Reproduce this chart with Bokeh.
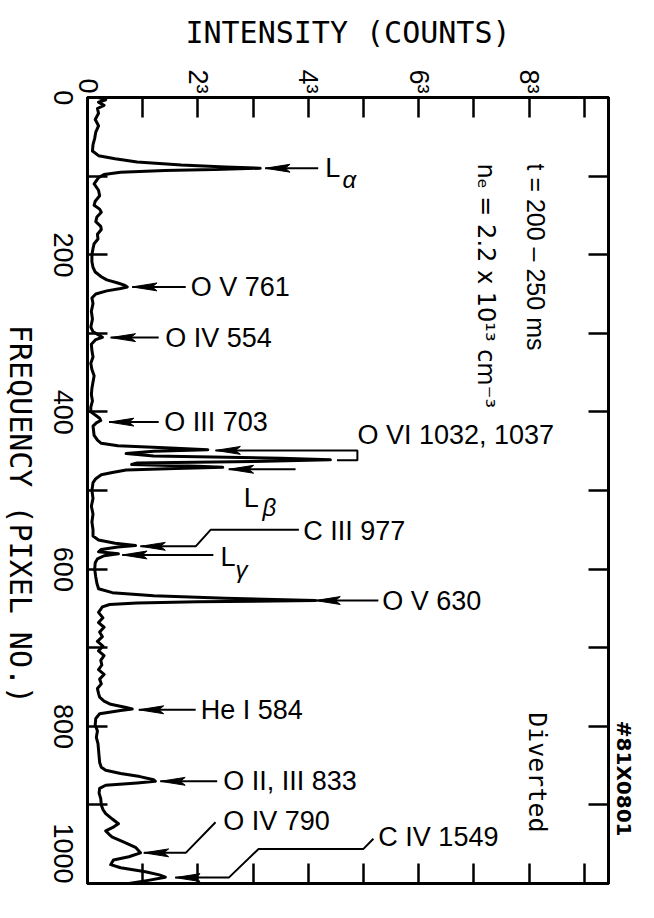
import math
from bokeh.plotting import figure
from bokeh.layouts import row
from bokeh.models import Range1d, LinearAxis, FixedTicker, Label
from bokeh.embed import file_html
from bokeh.resources import INLINE

# ---------------- data (frequency in pixel no., intensity as cube root of counts) ----------------
pixel = [0, 3, 6, 10, 14, 20, 28, 36, 44, 52, 60, 68,
         74, 78, 82, 86, 88.5, 90, 91.5, 93, 95, 98, 102,
         110, 118, 125, 132, 137, 142, 146, 152, 158, 164, 168, 174, 180, 186, 192, 200, 209, 216, 222,
         228, 232, 236, 239, 241, 243, 246, 250, 255,
         262, 272, 282, 292, 298, 302, 305, 308, 314, 322, 330, 338, 346, 354, 362, 370, 378, 386, 394,
         400, 404, 408, 411, 414, 418, 424, 430, 436, 440, 443,
         446, 448, 450, 453, 456, 459, 461, 463, 465, 467, 469, 470.5, 472, 474, 477, 480, 485, 490,
         500, 510, 520, 530, 540, 550, 558, 563, 567, 570, 572, 575, 578, 580.5, 583, 587, 592,
         600, 610, 618, 625, 630, 634, 637, 640, 641.5, 643, 645, 648,
         655, 662, 668, 674, 680, 686, 692, 698, 704, 710, 716, 722, 728, 734, 740, 746, 752, 758,
         763, 768, 772, 776, 778, 780, 784, 790, 798, 806, 814, 822, 830, 838, 846, 852, 856, 860,
         864, 868, 870, 872, 875, 879, 885, 892, 900, 906, 911, 918, 924, 929, 933, 938, 941, 947,
         954, 961, 966, 970, 976, 980, 985, 989, 992, 996, 1000]
cuberoot_counts = [0.2, 0.33, 0.2, 0.3, 0.18, 0.2, 0.14, 0.2, 0.15, 0.13, 0.1, 0.09,
                   0.2, 0.5, 0.9, 1.7, 2.5, 3.13, 2.3, 1.4, 0.6, 0.3, 0.2,
                   0.12, 0.2, 0.22, 0.14, 0.12, 0.22, 0.25, 0.17, 0.15, 0.24, 0.25, 0.18, 0.19, 0.12, 0.1, 0.08, 0.08, 0.1, 0.14,
                   0.25, 0.35, 0.55, 0.68, 0.72, 0.6, 0.35, 0.15, 0.08,
                   0.1, 0.07, 0.09, 0.06, 0.1, 0.2, 0.27, 0.15, 0.07, 0.08, 0.1, 0.06, 0.08, 0.12, 0.1, 0.08, 0.07, 0.09, 0.06,
                   0.06, 0.14, 0.22, 0.24, 0.16, 0.1, 0.11, 0.12, 0.18, 0.25, 0.55,
                   1.5, 2.18, 1.2, 0.7, 1.2, 3.5, 4.4, 3.0, 0.9, 0.8, 2.0, 2.45, 1.6, 0.7, 0.45, 0.25, 0.15, 0.1,
                   0.08, 0.1, 0.07, 0.1, 0.08, 0.1, 0.1, 0.2, 0.5, 0.87, 0.55, 0.25, 0.2, 0.56, 0.3, 0.18, 0.14,
                   0.13, 0.15, 0.17, 0.2, 0.45, 1.2, 2.5, 4.13, 2.0, 0.9, 0.4, 0.27,
                   0.2, 0.28, 0.2, 0.3, 0.22, 0.27, 0.18, 0.28, 0.2, 0.3, 0.24, 0.26, 0.2, 0.3, 0.22, 0.25, 0.18, 0.2,
                   0.22, 0.3, 0.42, 0.7, 0.81, 0.6, 0.22, 0.15, 0.14, 0.18, 0.16, 0.19, 0.2, 0.21, 0.22, 0.25, 0.33, 0.6,
                   0.95, 1.2, 1.23, 0.9, 0.33, 0.22, 0.21, 0.24, 0.25, 0.28, 0.33, 0.45, 0.56, 0.45, 0.33, 0.4, 0.45, 0.65,
                   0.87, 0.96, 0.75, 0.47, 0.42, 0.6, 1.05, 1.3, 1.41, 1.1, 0.75]

freq_ticks = [0, 100, 200, 300, 400, 500, 600, 700, 800, 900, 1000]
freq_labeled = [0, 200, 400, 600, 800, 1000]
freq_labels = ["0", "200", "400", "600", "800", "1000"]
int_major = [0, 2, 4, 6, 8]
int_major_labels = ["0", "2³", "4³", "6³", "8³"]
int_minor = [1, 3, 5, 7, 9]

x_title = "INTENSITY (COUNTS)"
y_title = "FREQUENCY (PIXEL NO.)"
shot_id = "#81X0801"

# line identifications: leader polyline (first point = arrow tip), text, text anchor
line_names = ["O V 761", "O IV 554", "O III 703", "O VI 1032, 1037", "C III 977",
              "O V 630", "He I 584", "O II, III 833", "O IV 790", "C IV 1549"]
name_pos = [(1.87, 241), (1.41, 305.5), (1.39, 413), (4.89, 430), (3.91, 551),
            (5.34, 640), (2.05, 779), (2.46, 870), (2.46, 921), (5.27, 941)]
leaders = [
    [(3.22, 90), (4.18, 90)],                                   # L alpha
    [(0.81, 241), (1.78, 241)],
    [(0.42, 305.5), (1.29, 305.5)],
    [(0.39, 413), (1.29, 413)],
    [(2.32, 449), (4.89, 449), (4.89, 461.5), (4.52, 461.5)],
    [(2.56, 473), (3.77, 473)],                                 # L beta
    [(0.96, 571), (1.96, 571), (2.23, 550), (3.83, 550)],
    [(0.63, 582), (2.28, 582)],                                 # L gamma
    [(4.13, 640), (5.27, 640)],
    [(0.93, 779), (1.96, 779)],
    [(1.32, 870), (2.35, 870)],
    [(1.02, 961), (1.78, 961), (2.32, 922)],
    [(1.59, 992.5), (2.56, 992.5), (3.10, 956), (5.0, 956), (5.18, 943)],
]
lyman = [("α", (4.31, 90), (4.62, 104)), ("β", (2.83, 510), (3.17, 522)), ("γ", (2.41, 584), (2.68, 601))]

# ---------------- layout constants ----------------
W, H = 654, 918
TITLE_W = 40                              # strip holding the rotated frequency title
F_LEFT, F_RIGHT, F_TOP, F_BOTTOM = 87, 608, 97, 883
px_per_f = (F_BOTTOM - F_TOP) / 1000.0
TICK_FONT_PX = 27
DIGIT_W = 0.556 * TICK_FONT_PX           # Liberation Sans digit advance
# rotated left-axis labels are drawn ending at their tick; shift the anchor so they are centred
freq_label_anchor = [int(round(min(t + len(s) * DIGIT_W / 2 / px_per_f, 1000)))
                     for t, s in zip(freq_labeled, freq_labels)]
y_title_center = 487                     # screen y of the frequency title centre
shot_id_start = 793                      # where the rotated shot number starts

# title strip
tf = figure(width=TITLE_W, height=H, x_range=Range1d(0, TITLE_W), y_range=Range1d(H, 0),
            x_axis_type=None, y_axis_type=None, output_backend="svg", toolbar_location=None,
            min_border=0)
tf.outline_line_color = None
tf.grid.visible = False
tf.background_fill_color = "white"
tf.border_fill_color = "white"
tf.add_layout(Label(x=TITLE_W / 2, y=y_title_center, text=y_title, angle=-math.pi / 2,
                    text_font="DejaVu Sans Mono", text_font_size="30px",
                    text_align="center", text_baseline="middle", text_color="black"))

# main plot
p = figure(width=W - TITLE_W, height=H, x_range=Range1d(0, 9.44), y_range=Range1d(1000, 0),
           x_axis_location="above", output_backend="svg", toolbar_location=None,
           min_border_left=F_LEFT - TITLE_W, min_border_right=W - F_RIGHT,
           min_border_top=F_TOP, min_border_bottom=H - F_BOTTOM)
p.grid.visible = False
p.outline_line_color = "black"
p.outline_line_width = 3
p.background_fill_color = "white"
p.border_fill_color = "white"

bottom_ax = LinearAxis(ticker=FixedTicker(ticks=[], minor_ticks=int_major[1:] + int_minor))
right_ax = LinearAxis(ticker=FixedTicker(ticks=[], minor_ticks=freq_ticks[1:-1]))
p.add_layout(bottom_ax, "below")
p.add_layout(right_ax, "right")

top_ax = p.xaxis[0]
left_ax = p.yaxis[0]
top_ax.ticker = FixedTicker(ticks=int_major, minor_ticks=int_minor)
top_ax.major_label_overrides = dict(zip(int_major, int_major_labels))
left_ax.ticker = FixedTicker(ticks=freq_label_anchor, minor_ticks=freq_ticks[1:-1])
left_ax.major_label_overrides = dict(zip(freq_label_anchor, freq_labels))

for ax in [top_ax, left_ax, bottom_ax, right_ax]:
    ax.major_tick_in = 20
    ax.major_tick_out = 0
    ax.minor_tick_in = 20
    ax.minor_tick_out = 0
    ax.major_tick_line_width = 2.5
    ax.minor_tick_line_width = 2.5
    ax.major_tick_line_color = "black"
    ax.minor_tick_line_color = "black"
    ax.axis_line_width = 3
    ax.axis_line_color = "black"
    ax.major_label_text_font = "Liberation Sans"
    ax.major_label_text_font_size = f"{TICK_FONT_PX}px"
    ax.major_label_text_color = "black"
left_ax.major_tick_line_color = None

top_ax.major_label_orientation = -math.pi / 2
top_ax.major_label_standoff = 4
top_ax.axis_label = x_title
top_ax.axis_label_text_font = "DejaVu Sans Mono"
top_ax.axis_label_text_font_size = "30px"
top_ax.axis_label_text_font_style = "normal"
top_ax.axis_label_text_color = "black"
top_ax.axis_label_standoff = 16

left_ax.major_label_orientation = -math.pi / 2
left_ax.major_label_standoff = 24

# outer right axis that only carries the rotated shot number
shot_ax = LinearAxis(ticker=FixedTicker(ticks=[shot_id_start]),
                     major_label_overrides={shot_id_start: shot_id})
shot_ax.axis_line_color = None
shot_ax.major_tick_line_color = None
shot_ax.minor_tick_line_color = None
shot_ax.major_tick_in = 0
shot_ax.major_tick_out = 0
shot_ax.major_label_orientation = -math.pi / 2
shot_ax.major_label_text_font = "DejaVu Sans"
shot_ax.major_label_text_font_size = "20px"
shot_ax.major_label_text_font_style = "bold"
shot_ax.major_label_text_color = "black"
shot_ax.major_label_standoff = 15
p.add_layout(shot_ax, "right")

# spectrum
p.line(cuberoot_counts, pixel, line_color="black", line_width=3, line_join="round")

# leaders and arrow heads
p.multi_line([[pt[0] for pt in L] for L in leaders], [[pt[1] for pt in L] for L in leaders],
             line_color="black", line_width=2)
head_len, head_half = 0.45, 5.0
p.patches([[L[0][0], L[0][0] + head_len, L[0][0] + head_len * 0.8, L[0][0] + head_len] for L in leaders],
          [[L[0][1], L[0][1] - head_half, L[0][1], L[0][1] + head_half] for L in leaders],
          fill_color="black", line_color="black", line_width=1)

FONT = "Liberation Sans"
for name, (x, y) in zip(line_names, name_pos):
    p.add_layout(Label(x=x, y=y, text=name, text_font=FONT, text_font_size="27px",
                       text_align="left", text_baseline="middle", text_color="black"))
for greek, (lx, ly), (gx, gy) in lyman:
    p.add_layout(Label(x=lx, y=ly, text="L", text_font=FONT, text_font_size="27px",
                       text_align="left", text_baseline="middle", text_color="black"))
    p.add_layout(Label(x=gx, y=gy, text=greek, text_font=FONT, text_font_size="24px",
                       text_font_style="italic", text_align="left", text_baseline="middle",
                       text_color="black"))

# rotated notes inside the frame
rot = -math.pi / 2
p.add_layout(Label(x=8.12, y=84, text="t = 200 – 250 ms", angle=rot, text_font=FONT,
                   text_font_size="25px", text_align="left", text_baseline="middle",
                   text_color="black"))
p.add_layout(Label(x=7.22, y=84, text="nₑ = 2.2 x 10¹³ cm⁻³", angle=rot, text_font="DejaVu Sans",
                   text_font_size="24px", text_align="left", text_baseline="middle",
                   text_color="black"))
p.add_layout(Label(x=8.15, y=782, text="Diverted", angle=rot, text_font="DejaVu Sans Mono",
                   text_font_size="25px", text_align="left", text_baseline="middle",
                   text_color="black"))

layout = row(tf, p, spacing=0)
open("out.html", "w").write(file_html(layout, INLINE))
